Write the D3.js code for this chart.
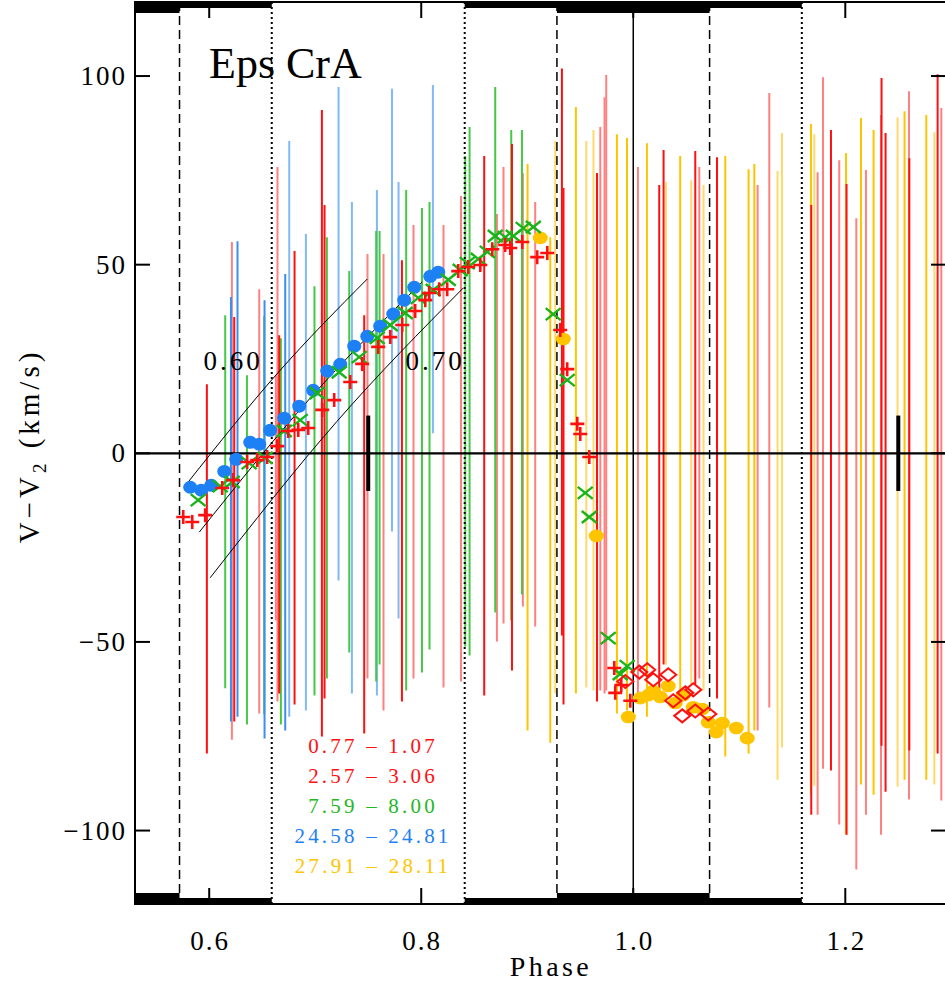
<!DOCTYPE html>
<html>
<head>
<meta charset="utf-8">
<script src="https://cdn.jsdelivr.net/npm/d3@7/dist/d3.min.js"></script>
<style>
body { margin: 0; background: #fff; }
text { font-family: "Liberation Serif", "DejaVu Serif", serif; }
</style>
</head>
<body>
<div id="chart"></div>
<script>
// velocities of the secondary line relative to V2, against orbital phase
// markers: [phase, v]
let redCross = [[0.5755,-16.9],[0.5840,-18.2],[0.5962,-16.4],[0.6123,-9.2],[0.6226,-7.1],[0.6358,-2.3],
    [0.6453,-1.8],[0.6547,-1.0],[0.6642,1.9],[0.6745,5.9],[0.6840,6.2],[0.6934,6.7],[0.7066,11.5],
    [0.7179,14.1],[0.7330,18.9],[0.7443,23.7],[0.7594,28.2],[0.7708,30.8],[0.7821,34.0],[0.7943,37.7],
    [0.8038,40.6],[0.8075,42.5],[0.8170,43.5],[0.8245,43.5],[0.8349,48.3],[0.8443,49.4],[0.8557,49.9],
    [0.8670,54.1],[0.8792,55.2],[0.8840,54.4],[0.8953,56.0],[0.9094,52.0],[0.9189,53.1],[0.9311,32.7],
    [0.9377,22.3],[0.9472,7.8],[0.9500,5.1],[0.9585,-1.0],[0.9821,-56.9],[0.9830,-63.5],[0.9887,-61.4],
    [0.9972,-65.6]];
let redDiamond = [[0.9925,-60.5],[1.0057,-58.0],[1.0132,-57.4],[1.0189,-60.0],[1.0330,-58.7],[1.0377,-65.6],
    [1.0462,-69.6],[1.0491,-63.5],[1.0566,-62.7],[1.0585,-68.3],[1.0708,-69.1]];
let greenX = [[0.5896,-12.4],[0.6104,-8.7],[0.6217,-7.6],[0.6377,-2.6],[0.6528,-1.2],[0.6708,5.9],[0.6858,8.8],
    [0.7019,16.0],[0.7226,21.5],[0.7415,25.5],[0.7585,30.6],[0.7708,34.0],[0.7849,37.2],[0.7972,41.2],
    [0.8113,43.3],[0.8255,46.0],[0.8368,48.6],[0.8434,50.4],[0.8538,51.5],[0.8623,53.4],[0.8698,57.6],
    [0.8792,57.3],[0.8868,57.6],[0.8962,59.7],[0.9057,60.0],[0.9245,36.9],[0.9377,19.4],[0.9547,-10.5],
    [0.9585,-16.9],[0.9764,-49.0],[0.9877,-58.5],[0.9943,-56.4]];
let blueDot = [[0.5821,-9.0],[0.5925,-9.8],[0.6019,-8.5],[0.6142,-4.8],[0.6255,-1.6],[0.6387,2.9],[0.6472,2.4],
    [0.6575,6.1],[0.6708,9.3],[0.6849,12.5],[0.6981,16.7],[0.7113,21.8],[0.7236,23.6],[0.7368,28.4],
    [0.7491,31.0],[0.7613,33.7],[0.7736,36.9],[0.7840,40.6],[0.7934,44.0],[0.8085,46.9],[0.8160,48.0]];
let yellowDot = [[0.9123,57.1],[0.9340,30.3],[0.9651,-21.9],[0.9953,-69.9],[1.0066,-64.9],[1.0142,-64.1],
    [1.0189,-63.0],[1.0255,-64.6],[1.0330,-61.7],[1.0396,-66.2],[1.0472,-64.1],[1.0566,-67.3],[1.0651,-67.8],
    [1.0708,-71.3],[1.0783,-73.9],[1.0840,-71.5],[1.0972,-72.8],[1.1075,-75.5]];

// error bars: [phase, low, high]
let redBars = [[0.5978,-79.6,18.3],[0.6236,-71.1,36.1],[0.6660,-63.7,31.3],[0.6805,-66.6,53.6],[0.7063,-75.1,91],
    [0.7088,-65,65.8],[0.7462,-74.3,36.6],[0.7818,-65.8,51.2],[0.8594,-64.2,78.8],[0.8856,-57.6,82],
    [0.9327,-48.3,102],[0.9342,-66.6,70.3],[0.9658,-65.8,74.3],[1.0245,-65.8,71.1],[1.0286,-56,80.4],
    [1.0585,-61.3,80.1],[1.0790,-65,78.5],[1.1679,-95.8,65.8],[1.1865,-84.1,85.7],[1.2012,-101.1,71.4],
    [1.2342,-77.5,99.5],[1.2380,-89.7,84.9],[1.2604,-78.8,78.2],[1.2871,-79.6,100.5]];
let lightRedBars = [[0.6214,-75.9,56],[0.6472,-69,43.5],[0.6629,-44.3,20.7],[0.6644,-65.8,75.9],[0.7493,-59.7,52.8],
    [0.7644,-68.2,52.8],[0.7927,-59.7,60.5],[0.8210,-62.1,60.5],[0.8375,-60.5,68.2],[0.8714,-49.9,63.4],
    [0.8776,-45.1,75.9],[0.8959,-40.6,74.3],[0.9075,-45.9,66.6],[0.9689,-62.9,86.5],[0.9729,-63.7,94.4],
    [0.9745,-62.9,100.3],[1.0044,-65.8,75.9],[1.0623,-59.7,75.9],[1.1173,-73.5,71.1],[1.1283,-67.4,95.5],
    [1.1739,-95.8,74.5],[1.1790,-83.6,99.7],[1.1943,-98.4,77.7],[1.2104,-110.3,62.3],[1.2195,-95.8,75.1],
    [1.2337,-101.1,89.7],[1.2601,-91.8,96],[1.2906,-92,91.5]];
let greenBars = [[0.6151,-62.3,36.6],[0.6356,-71.9,20.7],[0.6519,-69.2,36.3],[0.6676,-71.9,30.5],[0.6993,-64.2,44.3],
    [0.7110,-59.7,57.3],[0.7321,-52.8,48.3],[0.7575,-60.5,58.9],[0.7607,-56,58.9],[0.7858,-62.9,69.8],
    [0.8007,-58.1,65],[0.8078,-52,66.6],[0.8415,-51.2,78.8],[0.8456,-53.6,86.5],[0.8698,-42.2,97.1],
    [0.8849,-44.3,85.7],[0.8950,-37.4,85.7]];
let blueBars = [[0.6205,-71.1,41.4],[0.6267,-69.8,56.2],[0.6522,-75.6,40.6],[0.6717,-73.5,47.5]];
let lightBlueBars = [[0.6755,-69.8,82.8],[0.6912,-68.2,58.1],[0.7220,-33.7,97.1],[0.7346,-63.7,66.6],
    [0.7582,-64.2,69.8],[0.7724,-20.7,96.6],[0.7786,-43.8,71.9],[0.8110,5.3,97.6]];
let yellowBars = [[0.9003,-73.5,76.7],[0.9217,-76.7,57.3],[0.9459,-63.7,91.8],[0.9846,-69,84.6],[0.9941,-68.2,83.6],
    [1.0129,-69.8,82.2],[1.0443,-62.9,78.8],[1.0868,-80.4,78.8],[1.1088,-79.6,75.3],[1.1142,-73.5,76.7],
    [1.1676,-90.5,87.3],[1.2007,-101.1,79.6],[1.2148,-87.8,88.9],[1.2267,-90.5,85.7],[1.2559,-86.5,90.7],
    [1.2764,-86.5,89.7]];
let lightYellowBars = [[0.9264,-63.7,82.8],[0.9557,-62.1,82.8],[0.9625,-62.9,85.7],[1.0308,-56,71.9],
    [1.0547,-61.3,72.4],[1.0663,-62.9,71.1],[1.1361,-86.5,74.8],[1.1403,-78,84.9],[1.1708,-88.1,84.6],
    [1.2493,-88.3,89.1],[1.2840,-87.8,85.1]];

// model tracks: [phase, v]
let trackUpper = [[0.5802,-7.6],[0.6647,21.3],[0.7491,46.2]];
let trackMiddle = [[0.5906,-20.9],[0.6958,14.8],[0.8009,45.4]];
let trackLower = [[0.6009,-33.0],[0.7203,8.4],[0.8396,43.8]];
let trackLabels = [["0.60", 0.6226, 22], ["0.70", 0.8132, 22]];

// eclipse contacts
let totalPhases = [[0.428,0.572],[0.928,1.072]];
let partialPhases = [[0.572,0.659],[0.841,0.928],[1.072,1.159],[1.341,1.428]];
let dashedPhases = [0.572, 0.928, 1.072];
let dottedPhases = [0.659, 0.841, 1.159];
let scaleBarPhases = [0.75, 1.25];
let scaleBarHalf = 10;

let xTicks = [0.6, 0.8, 1.0, 1.2];
let yTicks = [-100, -50, 0, 50, 100];
let legendLabels = ["0.77 \u2013 1.07", "2.57 \u2013 3.06", "7.59 \u2013 8.00", "24.58 \u2013 24.81", "27.91 \u2013 28.11"];

let colors = {
    red: "#ff1010", lightRed: "#ff8080", green: "#19b419", greenBar: "#46c846",
    blue: "#1e80f5", blueBar: "#3a8ff0", lightBlue: "#80b9f5",
    yellow: "#ffc400", lightYellow: "#ffd96a"
};
let legendColors = [colors.red, colors.red, "#22b822", colors.blue, colors.yellow];

let W = 945, H = 983;
let pL = 135, pR = 946, pT = 2, pB = 904;

let x = d3.scaleLinear().domain([0.53, 1.295]).range([pL, pR]);
let y = d3.scaleLinear().domain([-119.6, 119.6]).range([pB + 0.5, pT + 0.1]);

let svg = d3.select("#chart")
    .append("svg")
    .attr("width", W)
    .attr("height", H);

svg.append("clipPath")
    .attr("id", "plot-clip")
    .append("rect")
    .attr("x", pL).attr("y", pT)
    .attr("width", pR - pL).attr("height", pB - pT);

let plot = svg.append("g").attr("clip-path", "url(#plot-clip)");

// eclipse bands along top and bottom
function bands(data, h) {
    [pT, pB - h].forEach(function(yy) {
        plot.selectAll(null)
            .data(data)
            .enter()
            .append("rect")
            .attr("x", function(d){ return x(d[0]); })
            .attr("width", function(d){ return x(d[1]) - x(d[0]); })
            .attr("y", yy)
            .attr("height", h)
            .attr("fill", "#000");
    });
}
bands(totalPhases, 11);
bands(partialPhases, 6);

// error bars
function bars(data, color) {
    plot.selectAll(null)
        .data(data)
        .enter()
        .append("line")
        .attr("x1", function(d){ return x(d[0]); })
        .attr("x2", function(d){ return x(d[0]); })
        .attr("y1", function(d){ return y(d[1]); })
        .attr("y2", function(d){ return y(d[2]); })
        .attr("stroke", color)
        .attr("stroke-width", 2);
}
bars(lightRedBars, colors.lightRed);
bars(lightYellowBars, colors.lightYellow);
bars(lightBlueBars, colors.lightBlue);
bars(greenBars, colors.greenBar);
bars(blueBars, colors.blueBar);
bars(yellowBars, colors.yellow);
bars(redBars, colors.red);

// contact lines
plot.selectAll(null)
    .data(dashedPhases)
    .enter()
    .append("line")
    .attr("x1", function(d){ return x(d); }).attr("x2", function(d){ return x(d); })
    .attr("y1", pT).attr("y2", pB)
    .attr("stroke", "#000").attr("stroke-width", 1.5)
    .attr("stroke-dasharray", "9,5");
plot.selectAll(null)
    .data(dottedPhases)
    .enter()
    .append("line")
    .attr("x1", function(d){ return x(d); }).attr("x2", function(d){ return x(d); })
    .attr("y1", pT).attr("y2", pB)
    .attr("stroke", "#000").attr("stroke-width", 2)
    .attr("stroke-dasharray", "2,3");
plot.append("line")
    .attr("x1", x(1)).attr("x2", x(1))
    .attr("y1", pT).attr("y2", pB)
    .attr("stroke", "#000").attr("stroke-width", 1.5);

// zero line
plot.append("line")
    .attr("x1", pL).attr("x2", pR)
    .attr("y1", y(0)).attr("y2", y(0))
    .attr("stroke", "#000").attr("stroke-width", 2.2);

// typical error markers
plot.selectAll(null)
    .data(scaleBarPhases)
    .enter()
    .append("line")
    .attr("x1", function(d){ return x(d); }).attr("x2", function(d){ return x(d); })
    .attr("y1", y(scaleBarHalf)).attr("y2", y(-scaleBarHalf))
    .attr("stroke", "#000").attr("stroke-width", 4);

// model tracks
let track = d3.line()
    .x(function(d){ return x(d[0]); })
    .y(function(d){ return y(d[1]); })
    .curve(d3.curveNatural);
[trackUpper, trackMiddle, trackLower].forEach(function(t) {
    plot.append("path")
        .attr("d", track(t))
        .attr("fill", "none")
        .attr("stroke", "#000")
        .attr("stroke-width", 1);
});

plot.selectAll(null)
    .data(trackLabels)
    .enter()
    .append("text")
    .attr("x", function(d){ return x(d[1]); })
    .attr("y", function(d){ return y(d[2]); })
    .attr("text-anchor", "middle")
    .style("font-size", "27px")
    .style("letter-spacing", "3px")
    .text(function(d){ return d[0]; });

// markers
function markers(data, draw) {
    let g = plot.selectAll(null)
        .data(data)
        .enter()
        .append("g")
        .attr("transform", function(d){ return "translate(" + x(d[0]) + "," + y(d[1]) + ")"; });
    draw(g);
}
markers(blueDot, function(g) {
    g.append("ellipse").attr("rx", 7).attr("ry", 6.5).attr("fill", colors.blue);
});
markers(yellowDot, function(g) {
    g.append("ellipse").attr("rx", 7.5).attr("ry", 6.3).attr("fill", colors.yellow);
});
markers(greenX, function(g) {
    g.append("path").attr("d", "M-7.5,-6L7.5,6M-7.5,6L7.5,-6")
        .attr("stroke", colors.green).attr("stroke-width", 2.4).attr("fill", "none");
});
markers(redCross, function(g) {
    g.append("path").attr("d", "M-7,0H7M0,-7V7")
        .attr("stroke", colors.red).attr("stroke-width", 2.6).attr("fill", "none");
});
markers(redDiamond, function(g) {
    g.append("path").attr("d", "M0,-6.5L8,0L0,6.5L-8,0Z")
        .attr("stroke", colors.red).attr("stroke-width", 2).attr("fill", "none");
});

// frame
svg.append("rect")
    .attr("x", pL).attr("y", pT)
    .attr("width", pR - pL).attr("height", pB - pT)
    .attr("fill", "none").attr("stroke", "#000").attr("stroke-width", 2);

// ticks
let tk = svg.append("g").attr("stroke", "#000").attr("stroke-width", 2);
yTicks.forEach(function(v) {
    tk.append("line").attr("x1", pL).attr("x2", pL + 15).attr("y1", y(v)).attr("y2", y(v));
    tk.append("line").attr("x1", pR).attr("x2", pR - 15).attr("y1", y(v)).attr("y2", y(v));
});
xTicks.forEach(function(p) {
    tk.append("line").attr("x1", x(p)).attr("x2", x(p)).attr("y1", pB).attr("y2", pB - 16);
    tk.append("line").attr("x1", x(p)).attr("x2", x(p)).attr("y1", pT).attr("y2", pT + 16);
});

svg.selectAll(".ylab")
    .data(yTicks)
    .enter()
    .append("text")
    .attr("class", "ylab")
    .attr("x", 127)
    .attr("y", function(d){ return y(d) + 9; })
    .attr("text-anchor", "end")
    .style("font-size", "27px")
    .style("letter-spacing", "2px")
    .text(function(d){ return d < 0 ? "\u2212" + Math.abs(d) : d; });

svg.selectAll(".xlab")
    .data(xTicks)
    .enter()
    .append("text")
    .attr("class", "xlab")
    .attr("x", function(d){ return x(d) + 1; })
    .attr("y", 950)
    .attr("text-anchor", "middle")
    .style("font-size", "27px")
    .style("letter-spacing", "2px")
    .text(function(d){ return d3.format(".1f")(d); });

svg.append("text")
    .attr("x", 551).attr("y", 976)
    .attr("text-anchor", "middle")
    .style("font-size", "28px")
    .style("letter-spacing", "3.4px")
    .text("Phase");

let ylab = svg.append("text")
    .attr("transform", "translate(39,446) rotate(-90)")
    .attr("text-anchor", "middle")
    .style("font-size", "29px")
    .style("letter-spacing", "4px");
ylab.append("tspan").text("V\u2212V");
ylab.append("tspan").attr("dy", 7).style("font-size", "19px").text("2");
ylab.append("tspan").attr("dy", -7).text(" (km/s)");

svg.append("text")
    .attr("x", 209).attr("y", 78)
    .style("font-size", "44px")
    .text("Eps CrA");

// legend
svg.selectAll(".legend")
    .data(legendLabels)
    .enter()
    .append("text")
    .attr("class", "legend")
    .attr("x", 373)
    .attr("y", function(d, i){ return 753 + i * 30; })
    .attr("text-anchor", "middle")
    .style("font-size", "21px")
    .style("letter-spacing", "3.2px")
    .style("fill", function(d, i){ return legendColors[i]; })
    .text(function(d){ return d; });
</script>
</body>
</html>
